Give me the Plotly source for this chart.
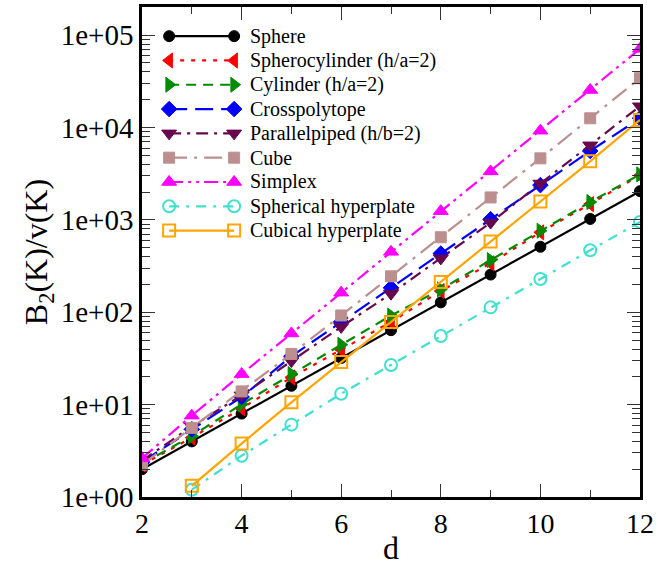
import plotly.graph_objects as go

d = [2, 3, 4, 5, 6, 7, 8, 9, 10, 11, 12]
d_hp = [3, 4, 5, 6, 7, 8, 9, 10, 11, 12]

sphere = [2, 4, 8, 16, 32, 64, 128, 256, 512, 1024, 2048]
spherocyl = [2.24, 4.39, 9.1, 19.7, 39.4, 78.5, 170, 339, 733, 1482, 3030]
cylinder = [2.29, 4.57, 10.1, 21.4, 44.5, 92, 177, 367, 764, 1560, 3110]
crosspoly = [2.39, 5.4, 12.1, 33.4, 78.5, 184, 432, 1015, 2380, 5580, 12600]
parallel = [2.48, 5.8, 12.6, 29.6, 69.5, 159, 383, 935, 2480, 6420, 17000]
cube = [2.24, 5.6, 13.9, 35.4, 92.3, 245, 649, 1750, 4640, 12600, 34200]
simplex = [2.63, 7.6, 21.4, 59, 163, 451, 1244, 3350, 9250, 25500, 71100]
sph_hyper = [1.2, 2.8, 6.07, 13.1, 26.9, 55.3, 113, 229, 469, 951]
cub_hyper = [1.32, 3.79, 10.6, 28.9, 78.5, 213, 584, 1586, 4310, 12100]

y_tickvals = [1, 10, 100, 1000, 10000, 100000]
y_ticktext = ["1e+00", "1e+01", "1e+02", "1e+03", "1e+04", "1e+05"]
x_tickvals = [2, 4, 6, 8, 10, 12]

SERIF = "Liberation Serif, serif"

series = [
    ("Sphere", d, sphere, "black", "solid", "circle", 11, 1),
    ("Spherocylinder (h/a=2)", d, spherocyl, "red", "4px,7px", "triangle-left", 13, 1),
    ("Cylinder (h/a=2)", d, cylinder, "#008b00", "10px,7px", "triangle-right", 13, 1),
    ("Crosspolytope", d, crosspoly, "blue", "18px,8px", "diamond", 12, 1),
    ("Parallelpiped (h/b=2)", d, parallel, "#67074e", "12px,6px,3px,6px", "triangle-down", 13, 1),
    ("Cube", d, cube, "#bc8f8f", "18px,7px,3px,7px", "square", 11, 1),
    ("Simplex", d, simplex, "magenta", "14px,5px,3px,5px,3px,5px", "triangle-up", 13, 1),
    ("Spherical hyperplate", d_hp, sph_hyper, "#40e0d0", "10px,7px,3px,7px", "circle-open", 12, 2),
    ("Cubical hyperplate", d_hp, cub_hyper, "orange", "solid", "square-open", 12, 2),
]

fig = go.Figure()
for name, xs, ys, col, dash, sym, ms, mlw in series:
    fig.add_trace(go.Scatter(
        x=xs, y=ys, mode="lines+markers", name=name,
        line=dict(color=col, width=2.2, dash=dash),
        marker=dict(symbol=sym, size=ms, color=col,
                    line=dict(color=col, width=mlw)),
        showlegend=False,
    ))

# custom legend on an overlay axis (layout positions only)
leg_x0, leg_x1, leg_tx = 0.0545, 0.185, 0.2135
leg_top, leg_step = 0.9405, 0.0496
for i, (name, xs, ys, col, dash, sym, ms, mlw) in enumerate(series):
    yy = leg_top - i * leg_step
    fig.add_trace(go.Scatter(
        x=[leg_x0, leg_x1], y=[yy, yy], xaxis="x2", yaxis="y2",
        mode="lines+markers", showlegend=False, hoverinfo="skip",
        line=dict(color=col, width=2.2, dash=dash),
        marker=dict(symbol=sym, size=ms, color=col, line=dict(color=col, width=mlw)),
    ))
    fig.add_annotation(x=leg_tx, y=yy, xref="x2", yref="y2", text=name,
                       showarrow=False, xanchor="left", yanchor="middle",
                       font=dict(family=SERIF, size=20, color="black"))

axis_common = dict(
    showline=True, linecolor="black", linewidth=2.5, mirror="allticks",
    ticks="inside", tickcolor="#333", tickwidth=1.3, ticklen=13,
    showgrid=False, zeroline=False,
)

fig.update_layout(
    width=658, height=566,
    margin=dict(l=142, r=15, t=4, b=60),
    plot_bgcolor="white", paper_bgcolor="white",
    font=dict(family=SERIF, color="black"),
    xaxis=dict(
        range=[2, 12], tickvals=x_tickvals,
        tickfont=dict(family=SERIF, size=28),
        ticklabeloverflow="allow",
        title=dict(text="d", font=dict(family=SERIF, size=32), standoff=0),
        minor=dict(dtick=1, ticks="inside", ticklen=7, tickcolor="#333", tickwidth=1.3),
        **axis_common,
    ),
    yaxis=dict(
        type="log", range=[0, 5.305], tickmode="array",
        tickvals=y_tickvals, ticktext=y_ticktext,
        tickfont=dict(family=SERIF, size=29),
        title=dict(text="B<sub>2</sub>(K)/v(K)", font=dict(family=SERIF, size=32), standoff=4),
        minor=dict(dtick="D1", ticks="inside", ticklen=8, tickcolor="#333", tickwidth=1.3),
        **axis_common,
    ),
    xaxis2=dict(overlaying="x", range=[0, 1], visible=False, anchor="y2"),
    yaxis2=dict(overlaying="y", range=[0, 1], visible=False, anchor="x2"),
)

fig.write_html("out.html", config={"displayModeBar": False},
               post_script="document.body.style.margin='0';")
